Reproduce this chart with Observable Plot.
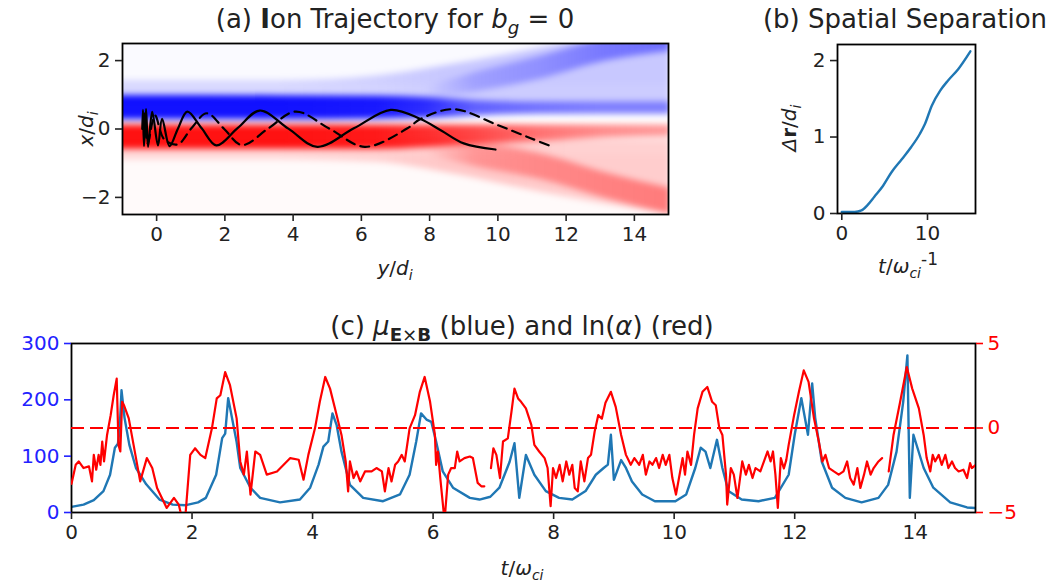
<!DOCTYPE html>
<html><head><meta charset="utf-8">
<script src="https://cdn.jsdelivr.net/npm/d3@7"></script>
<script src="https://cdn.jsdelivr.net/npm/@observablehq/plot@0.6"></script>
<style>
body{margin:0;background:#fff;}
#wrap{position:relative;width:1046px;height:582px;overflow:hidden;font-family:"DejaVu Sans",sans-serif;color:#222;}
.abs{position:absolute;}
.txt{position:absolute;white-space:nowrap;line-height:1;}
.title{font-size:26px;}
.lab{font-size:20px;}
sub,sup{font-size:70%;line-height:0;}
</style></head><body><div id="wrap"></div>
<script>
// ---------- Panel (a): trajectories (y/d_i , x/d_i) ----------
const solidY = [-0.42,-0.40,-0.37,-0.31,-0.25,-0.13,0.04,0.16,0.38,0.62,0.90,1.32,1.75,2.38,3.02,3.86,4.71,5.78,6.86,7.73,8.35,9.00,9.93];
const solidX = [0.00,0.56,-0.50,0.58,-0.52,0.50,-0.48,0.30,-0.50,0.00,0.51,0.02,-0.48,0.03,0.54,0.01,-0.52,0.02,0.56,0.29,-0.05,-0.42,-0.60];
const dashedY = [-0.36,-0.26,-0.05,0.22,0.62,1.02,1.47,1.98,2.50,3.28,4.07,5.08,6.10,7.35,7.73,8.70,9.98,10.96,11.60];
const dashedX = [0.45,-0.42,0.40,-0.30,-0.45,0.02,0.46,0.00,-0.47,0.02,0.51,0.00,-0.52,0.02,0.29,0.58,0.12,-0.27,-0.52];
const xTicksA = [0,2,4,6,8,10,12,14];
const yTicksA = [-2,0,2];
// density bands: [y/d_i, lower x/d_i, upper x/d_i, intensity]
const blueTint  = [[-1.5,1.2,3.0,0.02],[16,1.2,3.0,0.02]];
const redTint   = [[-1.5,-3.0,-1.0,0.02],[16,-3.0,-1.0,0.02]];
const blueHalo  = [[-1.5,0.6,1.3,0.15],[4,0.6,1.3,0.15],[7,0.6,1.45,0.17],[9,0.6,1.75,0.2],[11,0.6,2.1,0.2],[13,0.6,2.5,0.2],[16,0.6,2.8,0.2]];
const blueCore  = [[-1.5,0.1,0.85,0.93],[4,0.1,0.84,0.93],[7,0.12,0.82,0.9],[8.5,0.15,0.78,0.82],[10,0.22,0.68,0.62],[12,0.27,0.64,0.55],[14,0.27,0.64,0.5],[16,0.27,0.64,0.5]];
const blueUpper = [[8.5,0.75,1.1,0.0],[10,0.95,1.55,0.2],[12,1.35,2.05,0.28],[14,1.9,2.6,0.4],[16,2.2,3.0,0.45]];
const redHalo   = [[-1.5,-1.12,-0.6,0.15],[4,-1.12,-0.6,0.15],[7,-1.2,-0.6,0.17],[9,-1.5,-0.5,0.2],[11,-1.9,-0.5,0.2],[13,-2.3,-0.5,0.18],[16,-2.8,-0.5,0.18]];
const redCore   = [[-1.5,-0.8,-0.06,0.93],[4,-0.8,-0.06,0.93],[7,-0.8,-0.06,0.9],[8.5,-0.75,-0.06,0.82],[10,-0.64,-0.06,0.72],[12,-0.55,-0.06,0.55],[14,-0.45,-0.06,0.45],[16,-0.42,-0.06,0.4]];
const redLower  = [[8.5,-0.95,-0.7,0.0],[10,-1.33,-0.64,0.26],[12,-1.72,-0.94,0.33],[14,-2.3,-1.52,0.37],[16,-2.8,-2.0,0.4]];

// ---------- Panel (b): spatial separation ----------
const sepT  = [0,1.5,2.3,3.0,3.8,4.8,5.8,7.0,8.1,9.1,9.7,10.5,11.5,12.4,13.6,15.0];
const sepDr = [0.02,0.02,0.04,0.11,0.22,0.36,0.54,0.71,0.87,1.04,1.17,1.41,1.61,1.74,1.89,2.12];
const xTicksB = [0,10];
const yTicksB = [0,1,2];

// ---------- Panel (c): mu_ExB (blue) and ln(alpha) (red) ----------
const muT = [0,0.2,0.37,0.53,0.64,0.72,0.77,0.8,0.83,0.88,0.96,1.07,1.24,1.46,1.68,1.9,2.1,2.23,2.4,2.5,2.55,2.6,2.74,2.8,2.97,3.13,3.46,3.79,3.96,4.1,4.18,4.26,4.33,4.4,4.48,4.62,4.84,5.17,5.45,5.61,5.72,5.8,5.89,5.97,6.05,6.16,6.33,6.61,6.77,6.95,7.1,7.27,7.35,7.43,7.54,7.68,7.87,8.09,8.31,8.53,8.7,8.83,8.9,8.95,9.0,9.12,9.2,9.3,9.47,9.68,10.02,10.2,10.35,10.44,10.52,10.6,10.71,10.8,10.9,11.12,11.4,11.67,11.9,12.0,12.11,12.22,12.29,12.34,12.45,12.62,12.84,13.11,13.39,13.55,13.69,13.8,13.87,13.91,13.97,14.14,14.3,14.58,14.86,15.0];
const muVal = [10,14,22,38,67,115,122,150,217,168,120,79,50,23,14,13,18,26,67,132,140,203,125,79,44,26,18,23,44,85,117,126,176,155,108,49,26,20,32,67,126,176,165,161,126,73,44,26,23,28,44,90,123,26,102,67,38,26,23,38,67,79,85,138,58,93,79,55,32,20,20,32,79,115,108,79,129,79,38,23,20,26,67,138,203,138,229,168,90,44,26,18,26,49,108,196,279,26,138,79,44,18,9,8];
const lnT = [0,0.07,0.12,0.2,0.29,0.34,0.37,0.41,0.45,0.48,0.51,0.54,0.59,0.65,0.7,0.75,0.78,0.81,0.84,0.87,0.95,1.03,1.14,1.25,1.34,1.42,1.5,1.58,1.7,1.78,1.83,1.89,1.97,2.05,2.14,2.22,2.33,2.41,2.47,2.55,2.63,2.74,2.8,2.86,2.91,2.97,3.05,3.13,3.24,3.41,3.63,3.77,3.85,3.93,4.04,4.12,4.21,4.29,4.4,4.48,4.55,4.59,4.62,4.68,4.73,4.79,4.87,4.98,5.06,5.15,5.2,5.26,5.31,5.37,5.42,5.48,5.53,5.61,5.7,5.78,5.86,5.95,6.03,6.05,6.08,6.12,6.19,6.25,6.3,6.36,6.4,6.44,6.52,6.61,6.66,6.74,6.8,6.85,6.9,6.96,7.0,7.05,7.11,7.16,7.24,7.3,7.35,7.41,7.46,7.54,7.63,7.68,7.76,7.85,7.9,7.95,7.99,8.04,8.1,8.15,8.21,8.26,8.31,8.35,8.4,8.45,8.51,8.57,8.62,8.68,8.74,8.8,8.86,8.95,9.03,9.12,9.2,9.28,9.34,9.42,9.48,9.53,9.59,9.64,9.7,9.75,9.81,9.86,9.92,9.97,10.03,10.08,10.14,10.18,10.22,10.28,10.33,10.39,10.47,10.55,10.63,10.69,10.75,10.8,10.86,10.88,10.94,10.99,11.05,11.13,11.19,11.24,11.3,11.35,11.43,11.49,11.55,11.6,11.64,11.68,11.72,11.77,11.82,11.86,11.9,11.99,12.07,12.15,12.23,12.32,12.4,12.46,12.51,12.57,12.65,12.73,12.81,12.87,12.92,12.98,13.04,13.09,13.15,13.2,13.26,13.31,13.39,13.45,13.5,13.56,13.64,13.75,13.86,13.95,14.06,14.14,14.19,14.25,14.29,14.33,14.39,14.44,14.5,14.55,14.61,14.66,14.72,14.8,14.86,14.91,14.94,15.0];
const lnVal = [-3.3,-2.18,-1.98,-2.37,-2.27,-3.16,-1.59,-2.47,-1.59,-2.18,-0.8,-1.98,-0.41,0.76,1.94,2.92,-1.0,-1.39,1.55,1.35,0.57,-1.0,-3.16,-1.78,-2.37,-3.55,-4.14,-4.73,-4.14,-4.53,-5.3,-5.2,-1.59,-1.2,-1.59,-1.78,-0.02,1.75,1.94,3.31,2.53,0.57,-1.98,-2.76,-1.39,-3.94,-1.39,-1.59,-2.76,-2.57,-1.78,-1.88,-3.06,-1.59,-0.02,1.55,3.02,2.33,0.76,-0.41,-1.98,-3.75,-1.98,-2.96,-2.57,-3.16,-2.57,-2.57,-2.37,-2.57,-3.75,-2.37,-3.16,-2.18,-1.98,-1.59,-1.98,-0.02,0.76,2.14,3.02,1.55,-0.41,-2.18,-1.39,-3.0,-5.5,-2.76,-2.37,-2.37,-1.39,-1.98,-1.78,-1.69,-1.78,-3.25,-3.45,-3.45,NaN,-2.37,-1.2,-1.59,-2.96,-0.8,-0.61,0.96,2.33,1.75,1.55,1.16,0.18,-1.0,-1.39,-1.78,-2.37,-4.63,-2.37,-2.96,-2.18,-3.16,-1.98,-2.76,-2.18,-3.55,-3.75,-1.98,-3.16,-1.78,-1.59,-0.22,0.76,0.55,1.5,2.14,1.25,-0.41,-1.59,-2.18,-1.78,-2.18,-1.59,-2.76,-1.98,-2.18,-1.78,-2.37,-1.59,-2.18,-1.59,-2.96,-3.94,-2.96,-1.78,-2.76,-1.39,-2.18,-0.41,1.16,2.14,2.43,1.55,1.35,-0.02,-0.41,-2.76,-4.53,-2.37,-2.76,-4.14,-1.98,-2.76,-2.18,-2.96,-2.37,-2.57,-1.98,-1.39,-1.98,-1.39,-2.76,-4.73,-1.78,-2.4,-1.9,-1.0,0.76,2.14,3.41,2.73,0.57,-0.8,-1.98,-1.59,-2.37,-2.57,-2.76,-2.57,-1.98,-2.96,-3.35,-2.37,-3.55,-2.76,-1.98,-2.76,-2.37,-1.98,-1.78,NaN,-2.57,-0.41,1.55,3.61,2.33,1.16,-0.41,-1.78,-2.57,-1.59,-1.98,-1.59,-2.18,-1.59,-2.37,-1.98,-2.37,-2.57,-2.47,-2.96,-2.08,-2.37,-2.2];
const xTicksC = [0,2,4,6,8,10,12,14];
const muTicks = [0,100,200,300];
const lnTicks = [-5,0,5];

// ---------- helpers ----------
const FONT = "DejaVu Sans";
const BLUE = "#0000ff", RED = "#ff0000";
const fmt = d => (d < 0 ? "\u2212" + Math.abs(d) : String(d));
const wrap = document.getElementById("wrap");
function place(node, left, top, parent) {
  const d = document.createElement("div");
  d.className = "abs"; d.style.left = left + "px"; d.style.top = top + "px";
  d.appendChild(node); (parent || wrap).appendChild(d); return d;
}
function label(html, cx, cy, cls, rotate) {
  const d = document.createElement("div");
  d.className = "txt " + cls;
  d.innerHTML = html;
  d.style.left = cx + "px"; d.style.top = cy + "px";
  d.style.transform = "translate(-50%,-50%)" + (rotate ? " rotate(-90deg)" : "");
  wrap.appendChild(d);
}
const axisStyle = {tickSize: 7, tickPadding: 5, fontSize: 20, strokeWidth: 1.6, label: null, tickFormat: fmt};

// ---------- Panel (a) ----------
const A = {width: 700, height: 290, marginLeft: 122, marginRight: 32, marginTop: 43, marginBottom: 76};
const bands = [
  ["bTint", blueTint, BLUE], ["rTint", redTint, RED],
  ["bHalo", blueHalo, BLUE], ["rHalo", redHalo, RED],
  ["bUp", blueUpper, BLUE], ["rLow", redLower, RED],
  ["bCore", blueCore, BLUE], ["rCore", redCore, RED]
];
// density layer (blurred separately, clipped to the frame)
const pBands = Plot.plot({
  ...A,
  style: {background: "transparent", overflow: "visible"},
  x: {domain: [-1, 15], axis: null},
  y: {domain: [-2.5, 2.5], axis: null},
  marks: bands.map(([id, rows]) => Plot.areaY(rows, {
    x: d => d[0], y1: d => d[1], y2: d => d[2], curve: "monotone-x", fill: `url(#${id})`
  }))
});
(function () {
  const ns = "http://www.w3.org/2000/svg";
  const defs = document.createElementNS(ns, "defs");
  for (const [id, rows, color] of bands) {
    const g = document.createElementNS(ns, "linearGradient");
    g.setAttribute("id", id);
    g.setAttribute("x1", "0"); g.setAttribute("x2", "1"); g.setAttribute("y1", "0"); g.setAttribute("y2", "0");
    const s0 = rows[0][0], s1 = rows[rows.length - 1][0];
    for (const r of rows) {
      const st = document.createElementNS(ns, "stop");
      st.setAttribute("offset", String((r[0] - s0) / (s1 - s0)));
      st.setAttribute("stop-color", color);
      st.setAttribute("stop-opacity", String(r[3]));
      g.appendChild(st);
    }
    defs.appendChild(g);
  }
  pBands.insertBefore(defs, pBands.firstChild);
})();
const clipA = document.createElement("div");
clipA.className = "abs";
Object.assign(clipA.style, {left: A.marginLeft + "px", top: A.marginTop + "px",
  width: (A.width - A.marginLeft - A.marginRight) + "px", height: (A.height - A.marginTop - A.marginBottom) + "px", overflow: "hidden"});
wrap.appendChild(clipA);
place(pBands, -A.marginLeft, -A.marginTop, clipA).style.filter = "blur(3.2px)";

const pa = Plot.plot({
  ...A,
  style: {fontFamily: FONT, fontSize: "20px", background: "transparent", color: "#222"},
  x: {domain: [-1, 15]},
  y: {domain: [-2.5, 2.5]},
  marks: [
    Plot.line(d3.zip(solidY, solidX), {x: d => d[0], y: d => d[1], curve: "catmull-rom", stroke: "#000", strokeWidth: 2.2, clip: true}),
    Plot.line(d3.zip(dashedY, dashedX), {x: d => d[0], y: d => d[1], curve: "catmull-rom", stroke: "#000", strokeWidth: 2.2, strokeDasharray: "9,6", clip: true}),
    Plot.frame({stroke: "#000", strokeWidth: 1.8}),
    Plot.axisX({...axisStyle, ticks: xTicksA}),
    Plot.axisY({...axisStyle, ticks: yTicksA})
  ]
});
place(pa, 0, 0);

// ---------- Panel (b) ----------
const pb = Plot.plot({
  width: 286, height: 290,
  marginLeft: 77, marginRight: 71, marginTop: 44, marginBottom: 77,
  style: {fontFamily: FONT, fontSize: "20px", background: "transparent", color: "#222"},
  x: {domain: [-0.5, 15.6]},
  y: {domain: [0, 2.21]},
  marks: [
    Plot.line(d3.zip(sepT, sepDr), {x: d => d[0], y: d => d[1], curve: "monotone-x", stroke: "#1f77b4", strokeWidth: 2.4}),
    Plot.frame({stroke: "#000", strokeWidth: 1.8}),
    Plot.axisX({...axisStyle, ticks: xTicksB}),
    Plot.axisY({...axisStyle, ticks: yTicksB})
  ]
});
place(pb, 760, 0);

// ---------- Panel (c) ----------
const cOpts = {
  width: 1046, height: 282,
  marginLeft: 71, marginRight: 71, marginTop: 43, marginBottom: 70,
  style: {fontFamily: FONT, fontSize: "20px", background: "transparent", color: "#222"}
};
const pc1 = Plot.plot({
  ...cOpts,
  x: {domain: [0, 15]},
  y: {domain: [0, 300]},
  marks: [
    Plot.line(d3.zip(muT, muVal), {x: d => d[0], y: d => d[1], stroke: "#1f77b4", strokeWidth: 2.4, clip: true}),
    Plot.frame({stroke: "#000", strokeWidth: 1.8}),
    Plot.axisX({...axisStyle, ticks: xTicksC}),
    Plot.axisY({...axisStyle, ticks: muTicks, color: "#2222ff"})
  ]
});
const pc2 = Plot.plot({
  ...cOpts,
  x: {domain: [0, 15], axis: null},
  y: {domain: [-5, 5]},
  marks: [
    Plot.ruleY([0], {stroke: RED, strokeWidth: 2.2, strokeDasharray: "13,6"}),
    Plot.line(d3.zip(lnT, lnVal), {x: d => d[0], y: d => d[1], stroke: RED, strokeWidth: 2.2, clip: true}),
    Plot.axisY({...axisStyle, anchor: "right", ticks: lnTicks, color: RED})
  ]
});
place(pc1, 0, 300);
place(pc2, 0, 300).style.pointerEvents = "none";

// ---------- titles & axis labels ----------
label('(a) <b>I</b>on Trajectory for <i>b</i><sub><i>g</i></sub> = 0', 395, 19, "title");
label('(b) Spatial Separation', 905, 19, "title");
label('(c) <i>μ</i><sub><b>E</b>×<b>B</b></sub> (blue) and ln(<i>α</i>) (red)', 522, 326, "title");
label('<i>y</i>/<i>d</i><sub><i>i</i></sub>', 395, 268, "lab");
label('<i>x</i>/<i>d</i><sub><i>i</i></sub>', 86, 129, "lab", true);
label('<i>Δ</i><b>r</b>/<i>d</i><sub><i>i</i></sub>', 789, 128, "lab", true);
label('<i>t</i>/<i>ω</i><sub><i>ci</i></sub><sup style="font-size:85%">-1</sup>', 908, 266, "lab");
label('<i>t</i>/<i>ω</i><sub><i>ci</i></sub>', 522, 568, "lab");
</script></body></html>
